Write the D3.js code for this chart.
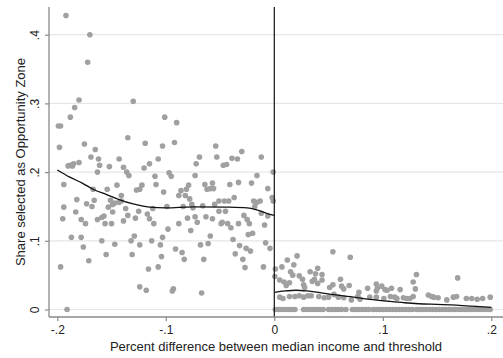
<!DOCTYPE html>
<html>
<head>
<meta charset="utf-8">
<script src="https://cdn.jsdelivr.net/npm/d3@7"></script>
<style>
  html, body { margin: 0; padding: 0; background: #fff; }
  svg { display: block; font-family: "Liberation Sans", Arial, sans-serif; }
</style>
</head>
<body>
<svg id="chart" width="503" height="358"></svg>
<script>
// Tracts below the income threshold: [percent difference, share selected]
const pointsBelow = [
  [-0.192,0.428],[-0.170,0.400],[-0.172,0.360],[-0.180,0.305],[-0.184,0.294],[-0.188,0.280],
  [-0.130,0.303],[-0.199,0.267],[-0.197,0.267],[-0.101,0.280],[-0.135,0.250],[-0.198,0.236],
  [-0.175,0.241],[-0.119,0.242],[-0.103,0.238],[-0.165,0.233],[-0.169,0.222],[-0.162,0.219],
  [-0.161,0.210],[-0.152,0.208],[-0.143,0.219],[-0.139,0.207],[-0.136,0.200],[-0.134,0.195],
  [-0.190,0.209],[-0.188,0.210],[-0.186,0.209],[-0.185,0.212],[-0.180,0.214],[-0.120,0.206],
  [-0.115,0.212],[-0.107,0.219],[-0.110,0.194],[-0.163,0.200],[-0.097,0.199],[-0.194,0.182],
  [-0.167,0.175],[-0.154,0.175],[-0.145,0.181],[-0.141,0.166],[-0.127,0.174],[-0.124,0.175],
  [-0.122,0.181],[-0.109,0.182],[-0.102,0.171],[-0.182,0.160],[-0.173,0.154],[-0.168,0.150],
  [-0.166,0.159],[-0.194,0.149],[-0.183,0.142],[-0.151,0.159],[-0.149,0.153],[-0.147,0.155],
  [-0.143,0.156],[-0.141,0.158],[-0.153,0.149],[-0.149,0.142],[-0.137,0.147],[-0.125,0.143],
  [-0.117,0.139],[-0.112,0.147],[-0.195,0.132],[-0.178,0.131],[-0.174,0.125],[-0.163,0.131],
  [-0.159,0.134],[-0.157,0.136],[-0.156,0.125],[-0.150,0.125],[-0.139,0.129],[-0.128,0.133],
  [-0.135,0.137],[-0.115,0.132],[-0.111,0.125],[-0.187,0.105],[-0.178,0.105],[-0.176,0.091],
  [-0.159,0.100],[-0.147,0.095],[-0.129,0.107],[-0.132,0.100],[-0.124,0.094],[-0.113,0.100],
  [-0.105,0.094],[-0.103,0.105],[-0.155,0.080],[-0.131,0.080],[-0.104,0.077],[-0.171,0.071],
  [-0.197,0.062],[-0.116,0.059],[-0.107,0.062],[-0.124,0.033],[-0.118,0.028],[-0.191,0.000],
  [-0.090,0.272],[-0.092,0.243],[-0.054,0.238],[-0.069,0.222],[-0.072,0.212],[-0.053,0.222],
  [-0.047,0.210],[-0.044,0.211],[-0.039,0.220],[-0.034,0.219],[-0.030,0.230],[-0.012,0.222],
  [-0.095,0.194],[-0.001,0.200],[-0.073,0.195],[-0.016,0.195],[-0.088,0.166],[-0.086,0.173],
  [-0.082,0.166],[-0.081,0.175],[-0.079,0.181],[-0.078,0.161],[-0.064,0.182],[-0.062,0.175],
  [-0.059,0.176],[-0.057,0.184],[-0.056,0.176],[-0.041,0.182],[-0.033,0.185],[-0.021,0.184],
  [-0.006,0.176],[-0.076,0.153],[-0.075,0.148],[-0.084,0.150],[-0.066,0.151],[-0.099,0.150],
  [-0.051,0.158],[-0.046,0.158],[-0.042,0.158],[-0.037,0.163],[-0.055,0.153],[-0.019,0.158],
  [-0.016,0.156],[-0.013,0.158],[-0.018,0.150],[-0.002,0.163],[-0.001,0.158],[-0.051,0.143],
  [-0.045,0.143],[-0.080,0.133],[-0.073,0.135],[-0.063,0.135],[-0.057,0.132],[-0.028,0.137],
  [-0.012,0.140],[-0.006,0.136],[-0.098,0.117],[-0.088,0.125],[-0.071,0.127],[-0.077,0.115],
  [-0.049,0.125],[-0.048,0.127],[-0.043,0.125],[-0.040,0.119],[-0.033,0.125],[-0.025,0.131],
  [-0.023,0.125],[-0.009,0.123],[-0.059,0.107],[-0.061,0.096],[-0.068,0.094],[-0.091,0.088],
  [-0.085,0.083],[-0.083,0.073],[-0.065,0.073],[-0.038,0.102],[-0.032,0.093],[-0.026,0.089],
  [-0.022,0.085],[-0.036,0.081],[-0.029,0.073],[-0.027,0.061],[-0.024,0.109],[-0.020,0.111],
  [-0.008,0.097],[-0.004,0.089],[-0.010,0.062],[-0.093,0.030],[-0.094,0.027],[-0.067,0.024]
];

// Tracts above the income threshold with a non-zero share
const pointsAbove = [
  [0.054,0.084],[0.070,0.076],[0.021,0.078],[0.012,0.072],[0.007,0.062],[0.001,0.059],
  [0.018,0.065],[0.015,0.055],[0.0005,0.048],[0.005,0.043],[0.009,0.040],[0.011,0.035],
  [0.023,0.049],[0.026,0.044],[0.027,0.036],[0.028,0.032],[0.033,0.055],[0.038,0.052],
  [0.037,0.044],[0.035,0.041],[0.040,0.038],[0.044,0.043],[0.044,0.051],[0.051,0.032],
  [0.061,0.044],[0.062,0.034],[0.064,0.030],[0.069,0.035],[0.078,0.025],[0.086,0.031],
  [0.094,0.037],[0.095,0.031],[0.099,0.034],[0.102,0.029],[0.017,0.050],[0.040,0.060],
  [0.014,0.039],[0.054,0.036],[0.055,0.022],[0.094,0.027],[0.104,0.028],[0.108,0.031],
  [0.116,0.029],[0.131,0.051],[0.128,0.040],[0.130,0.030],[0.169,0.046],
  [0.005,0.018],[0.008,0.016],[0.014,0.019],[0.023,0.020],[0.027,0.018],[0.031,0.020],
  [0.041,0.019],[0.046,0.017],[0.050,0.018],[0.059,0.018],[0.064,0.017],[0.071,0.014],
  [0.077,0.019],[0.079,0.015],[0.088,0.018],[0.094,0.018],[0.101,0.016],[0.107,0.019],
  [0.019,0.019],[0.034,0.020],[0.111,0.018],[0.113,0.016],[0.119,0.017],[0.122,0.016],
  [0.125,0.016],[0.128,0.019],[0.142,0.021],[0.145,0.019],[0.147,0.018],[0.151,0.017],
  [0.159,0.014],[0.165,0.018],[0.168,0.019],[0.177,0.016],[0.182,0.016],[0.187,0.015],
  [0.192,0.016],[0.199,0.018]
];

// Tracts above the threshold where no tract was selected (share = 0)
const zeroAboveX = [
  0.001,0.004,0.007,0.010,0.013,0.016,0.019,0.027,0.030,0.033,0.036,0.039,0.042,0.045,
  0.050,0.053,0.056,0.059,0.062,0.066,0.072,0.075,0.078,0.081,0.084,0.087,0.091,0.094,
  0.097,0.100,0.103,0.106,0.109,0.112,0.115,0.118,0.121,0.124,0.127,0.131,0.134,0.137,
  0.140,0.143,0.146,0.149,0.152,0.155,0.158,0.161,0.164,0.167,0.170,0.173,0.176,0.179,
  0.182,0.185,0.188,0.191,0.194,0.197,0.199
];

// Local fits on each side of the threshold
const fitBelow = [
  [-0.200,0.203],[-0.189,0.193],[-0.177,0.184],[-0.167,0.175],[-0.154,0.167],[-0.143,0.160],
  [-0.131,0.154],[-0.115,0.149],[-0.100,0.148],[-0.075,0.1495],[-0.044,0.149],[-0.025,0.148],
  [-0.016,0.145],[-0.007,0.140],[0.000,0.137]
];
const fitAbove = [
  [0.000,0.025],[0.010,0.027],[0.020,0.028],[0.030,0.027],[0.042,0.0245],[0.055,0.0215],
  [0.070,0.0186],[0.088,0.0148],[0.105,0.012],[0.120,0.0098],[0.133,0.0084],[0.150,0.0074],
  [0.163,0.0066],[0.180,0.005],[0.200,0.0032]
];

const xTicks = [-0.2, -0.1, 0, 0.1, 0.2];
const xTickLabels = ["-.2", "-.1", "0", ".1", ".2"];
const yTicks = [0, 0.1, 0.2, 0.3, 0.4];
const yTickLabels = ["0", ".1", ".2", ".3", ".4"];
const threshold = 0;

const svg = d3.select("#chart");
const plot = { left: 49, right: 503, top: 7, bottom: 317 };

const x = d3.scaleLinear().domain([-0.2, 0.2]).range([57.3, 491.3]);
const y = d3.scaleLinear().domain([0, 0.4]).range([309.5, 34.7]);

// horizontal grid
svg.append("g")
  .selectAll("line")
  .data(yTicks)
  .join("line")
  .attr("x1", plot.left).attr("x2", plot.right)
  .attr("y1", d => y(d)).attr("y2", d => y(d))
  .attr("stroke", "#e6e6e6").attr("stroke-width", 1.2);

// scatter
const dotColor = "#a0a0a0";
const dots = svg.append("g").attr("fill", dotColor);
dots.selectAll("circle.b").data(pointsBelow).join("circle").attr("class", "b")
  .attr("cx", d => x(d[0])).attr("cy", d => y(d[1])).attr("r", 2.8);
dots.selectAll("circle.a").data(pointsAbove).join("circle").attr("class", "a")
  .attr("cx", d => x(d[0])).attr("cy", d => y(d[1])).attr("r", 2.8);
dots.selectAll("circle.z").data(zeroAboveX).join("circle").attr("class", "z")
  .attr("cx", d => x(d)).attr("cy", y(0)).attr("r", 2.8);

// fitted curves
const line = d3.line().x(d => x(d[0])).y(d => y(d[1])).curve(d3.curveMonotoneX);
[fitBelow, fitAbove].forEach(f => {
  svg.append("path").datum(f).attr("d", line)
    .attr("fill", "none").attr("stroke", "#111").attr("stroke-width", 1.3);
});

// threshold line
svg.append("line")
  .attr("x1", x(threshold)).attr("x2", x(threshold))
  .attr("y1", plot.top).attr("y2", plot.bottom)
  .attr("stroke", "#111").attr("stroke-width", 1.2);

// axes
const axisColor = "#8a8a8a";
const yAxis = svg.append("g").attr("transform", `translate(${plot.left},0)`)
  .call(d3.axisLeft(y).tickValues(yTicks).tickFormat((d, i) => yTickLabels[i]).tickSize(4).tickPadding(6));
yAxis.select(".domain").attr("d", `M0,${plot.top}V${plot.bottom}`);
const xAxis = svg.append("g").attr("transform", `translate(0,${plot.bottom})`)
  .call(d3.axisBottom(x).tickValues(xTicks).tickFormat((d, i) => xTickLabels[i]).tickSize(4).tickPadding(4));
xAxis.select(".domain").attr("d", `M${plot.left},0H${plot.right}`);

[xAxis, yAxis].forEach(a => {
  a.select(".domain").attr("stroke", axisColor).attr("stroke-width", 1.3);
  a.selectAll(".tick line").attr("stroke", axisColor).attr("stroke-width", 1.2);
  a.selectAll("text").attr("fill", "#222").attr("font-size", 12)
    .attr("font-family", "Liberation Sans, Arial, sans-serif");
});

// vertical y tick labels
yAxis.selectAll(".tick text")
  .attr("x", null).attr("dy", null)
  .attr("text-anchor", "middle")
  .attr("transform", "translate(-10,0) rotate(-90)");

// titles
svg.append("text")
  .attr("x", (plot.left + plot.right) / 2).attr("y", 351)
  .attr("text-anchor", "middle").attr("font-size", 13).attr("fill", "#222")
  .text("Percent difference between median income and threshold");
svg.append("text")
  .attr("transform", `translate(25,${(plot.top + plot.bottom) / 2}) rotate(-90)`)
  .attr("text-anchor", "middle").attr("font-size", 13).attr("fill", "#222")
  .text("Share selected as Opportunity Zone");
</script>
</body>
</html>
